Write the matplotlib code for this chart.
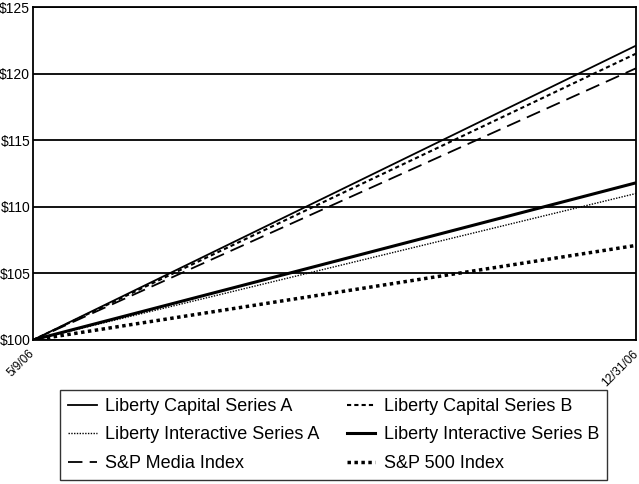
import matplotlib.pyplot as plt

plt.rcParams['font.family'] = ['Liberation Sans', 'DejaVu Sans']

dates = ['5/9/06', '12/31/06']
cap_a = [100, 122.1]
cap_b = [100, 121.5]
inter_a = [100, 111.0]
inter_b = [100, 111.8]
media = [100, 120.4]
sp500 = [100, 107.1]

fig = plt.figure(figsize=(6.39, 4.84), dpi=100)
ax = fig.add_axes([33 / 639, 1 - 340 / 484, 603 / 639, 333 / 484])

x = range(len(dates))
h_cap_a, = ax.plot(x, cap_a, color='black', lw=1.3, label='Liberty Capital Series A')
h_cap_b, = ax.plot(x, cap_b, color='black', lw=1.5, ls=(0, (2, 1.5)), label='Liberty Capital Series B')
h_int_a, = ax.plot(x, inter_a, color='black', lw=1.0, ls=(0, (1, 1)), label='Liberty Interactive Series A')
h_int_b, = ax.plot(x, inter_b, color='black', lw=2.2, label='Liberty Interactive Series B')
h_media, = ax.plot(x, media, color='black', lw=1.3, ls=(0, (8, 4)), label='S&P Media Index')
h_sp, = ax.plot(x, sp500, color='black', lw=2.5, ls=(0, (1, 1)), label='S&P 500 Index')

ax.set_xlim(0, 1)
ax.set_ylim(100, 125)
ax.set_xticks(list(x))
ax.set_xticklabels([])
# rotated date labels, ending just under each tick
for xi, d in zip(x, dates):
    ax.annotate(d, xy=(xi, 0), xycoords=('data', 'axes fraction'),
                xytext=(0, -12), textcoords='offset pixels',
                ha='right', va='center', rotation=45, rotation_mode='anchor', fontsize=8.5)
yt = [100, 105, 110, 115, 120, 125]
ax.set_yticks(yt)
ax.set_yticklabels(['$%d' % v for v in yt], fontsize=10)
ax.tick_params(length=0, pad=2)
for v in yt:
    ax.axhline(v, color='black', lw=1.3, zorder=0)
for s in ax.spines.values():
    s.set_linewidth(1.3)

# legend fills column-wise, so order for row-wise reading
handles = [h_cap_a, h_int_a, h_media, h_cap_b, h_int_b, h_sp]
leg = fig.legend(handles=handles, loc='lower center', bbox_to_anchor=(0.522, 0.008), ncol=2,
                 fontsize=13, frameon=True, fancybox=False, edgecolor='black', handlelength=1.6,
                 columnspacing=1.5, labelspacing=0.64, borderpad=0.45, handletextpad=0.45,
                 borderaxespad=0)
leg.get_frame().set_linewidth(1.0)

fig.savefig('out.png', dpi=100)
